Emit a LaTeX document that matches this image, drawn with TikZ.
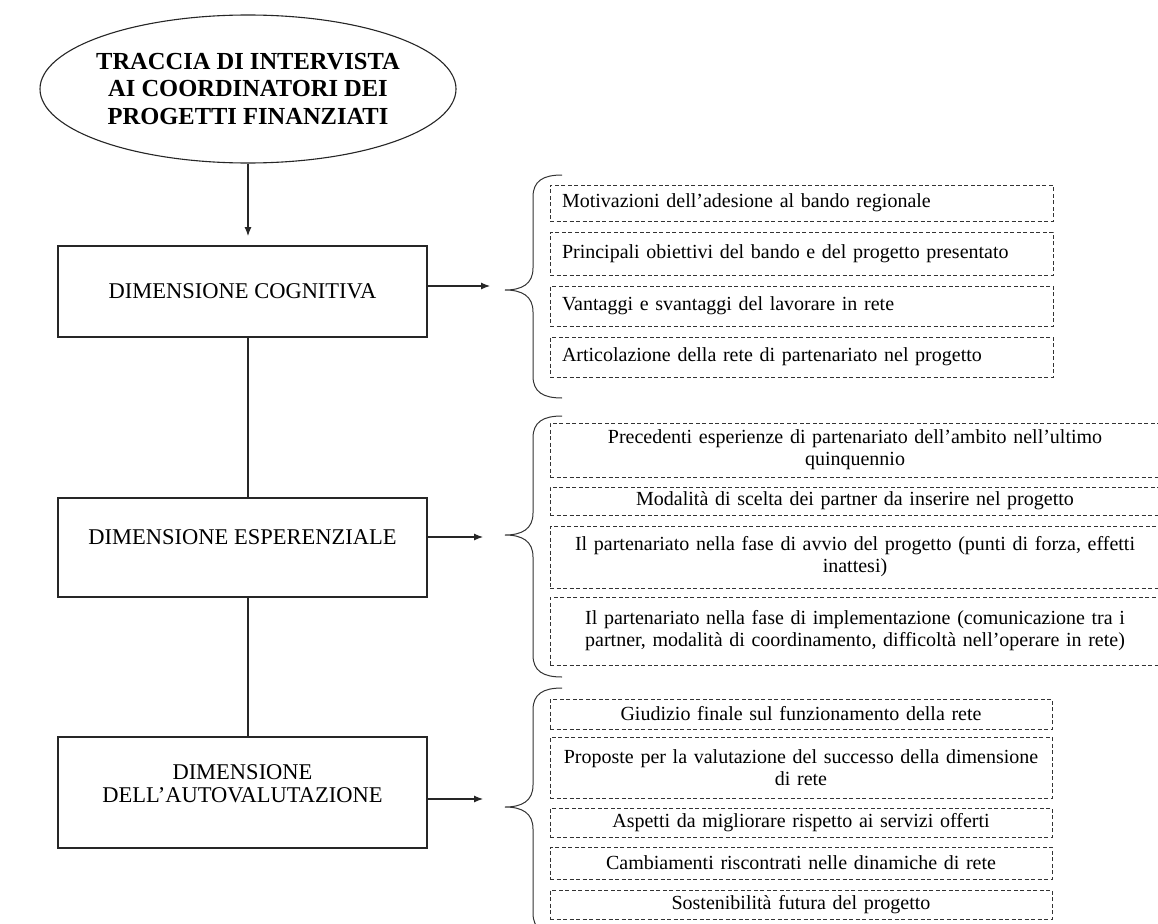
\documentclass[tikz,border=0pt]{standalone}
\usepackage{fontspec}
\setmainfont{Liberation Serif}
\usetikzlibrary{shapes.geometric,arrows.meta,calc}
% curly brace: #1 top, #2 tip, #3 bottom (y grows downward)
\newcommand{\drawbrace}[3]{%
  \draw[brace] (562,#1) .. controls (543,#1) and (533,{#1+6}) .. (533,{#1+22})
    -- (533,{#2-22}) .. controls (533,{#2-6}) and (522,#2) .. (505,#2)
    .. controls (522,#2) and (533,{#2+6}) .. (533,{#2+22})
    -- (533,{#3-22}) .. controls (533,{#3-6}) and (543,#3) .. (562,#3);}
\begin{document}
\begin{tikzpicture}[x=1pt,y=-1pt,
  mainline/.style={draw=black!85,line width=1.1pt},
  dimbox/.style={draw=black!85,line width=1.1pt,rectangle,minimum width=369pt,inner sep=0pt},
  dimtext/.style={font=\fontsize{22.5}{23.5}\selectfont,align=center,inner sep=0pt},
  item/.style={draw=black!80,line width=0.9pt,dash pattern=on 4pt off 2.5pt,rectangle,
    inner ysep=0pt,inner xsep=12pt,align=center,font=\fontsize{20}{22}\selectfont},
  brace/.style={draw=black!80,line width=1pt},
  tip/.style={-{Latex[length=9pt,width=7pt]}}
]
\useasboundingbox (0,0) rectangle (1158,923);
\fill[white] (0,0) rectangle (1158,923);

% title ellipse
\node[ellipse,draw=black!85,line width=1.1pt,minimum width=416pt,minimum height=148pt,
  inner xsep=-10pt,inner ysep=0pt,font=\bfseries\fontsize{24.5}{27.5}\selectfont,align=center]
  (e) at (248,89) {TRACCIA DI INTERVISTA\\AI COORDINATORI DEI\\PROGETTI FINANZIATI};

% the three dimensions
\node[dimbox,minimum height=91pt] (b1) at (242.5,291.5) {};
\node[dimtext] (b1t) at (242.5,291) {DIMENSIONE COGNITIVA};
\node[dimbox,minimum height=99pt] (b2) at (242.5,547.5) {};
\node[dimtext] (b2t) at (242.5,537) {DIMENSIONE ESPERENZIALE};
\node[dimbox,minimum height=111pt] (b3) at (242.5,792.5) {};
\node[dimtext] (b3t) at (242.5,783.5) {DIMENSIONE\\DELL’AUTOVALUTAZIONE};

% vertical flow
\coordinate (t0) at (248,236);
\draw[mainline,tip] (e.south) -- (t0);
\draw[mainline] (e.south |- b1.south) -- (e.south |- b2.north);
\draw[mainline] (e.south |- b2.south) -- (e.south |- b3.north);

% arrows towards the braces
\coordinate (t1) at (490,286);
\coordinate (t2) at (483,537);
\coordinate (t3) at (483,799);
\draw[mainline,tip] (b1.east |- t1) -- (t1);
\draw[mainline,tip] (b2.east |- t2) -- (t2);
\draw[mainline,tip] (b3.east |- t3) -- (t3);

% braces
\drawbrace{175}{290}{398}
\drawbrace{416}{535}{677}
\drawbrace{688}{807}{935}

% cognitive items
\node[item,align=left,text width=479pt,minimum height=36pt] (c1) at (801.5,203) {Motivazioni dell’adesione al bando regionale};
\node[item,align=left,text width=479pt,minimum height=43pt] (c2) at (801.5,253.5) {Principali obiettivi del bando e del progetto presentato};
\node[item,align=left,text width=479pt,minimum height=40pt] (c3) at (801.5,306) {Vantaggi e svantaggi del lavorare in rete};
\node[item,align=left,text width=479pt,minimum height=40pt] (c4) at (801.5,357) {Articolazione della rete di partenariato nel progetto};

% experiential items
\node[item,text width=586pt,minimum height=54pt] (x1) at (855,450) {Precedenti esperienze di partenariato dell’ambito nell’ultimo\\quinquennio};
\node[item,text width=586pt,minimum height=28pt] (x2) at (855,501) {Modalità di scelta dei partner da inserire nel progetto};
\node[item,text width=586pt,minimum height=62pt] (x3) at (855,557) {Il partenariato nella fase di avvio del progetto (punti di forza, effetti\\inattesi)};
\node[item,text width=586pt,minimum height=68pt] (x4) at (855,631) {Il partenariato nella fase di implementazione (comunicazione tra i\\partner, modalità di coordinamento, difficoltà nell’operare in rete)};

% self-assessment items
\node[item,text width=478pt,minimum height=30pt] (s1) at (801,714) {Giudizio finale sul funzionamento della rete};
\node[item,text width=478pt,minimum height=61pt] (s2) at (801,767.5) {Proposte per la valutazione del successo della dimensione\\di rete};
\node[item,text width=478pt,minimum height=29pt] (s3) at (801,822.5) {Aspetti da migliorare rispetto ai servizi offerti};
\node[item,text width=478pt,minimum height=32pt] (s4) at (801,863) {Cambiamenti riscontrati nelle dinamiche di rete};
\node[item,text width=478pt,minimum height=29pt] (s5) at (801,904.5) {Sostenibilità futura del progetto};
\end{tikzpicture}
\end{document}
